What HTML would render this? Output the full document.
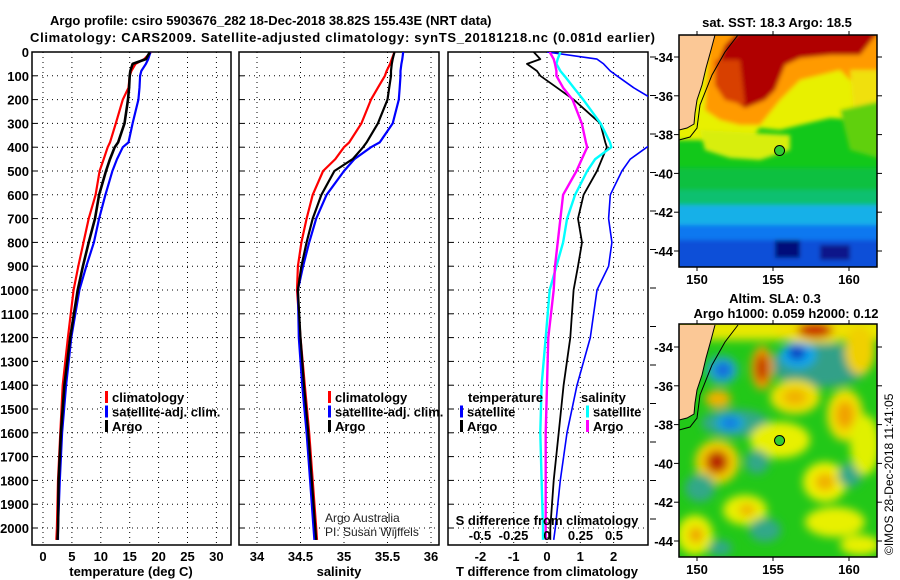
<!DOCTYPE html>
<html><head><meta charset="utf-8"><style>
html,body{margin:0;padding:0;background:#fff;}
svg{display:block;font-family:"Liberation Sans",Arial,sans-serif;}
.b{font-weight:bold;font-size:13px;}
</style></head><body>
<svg id="fig" width="900" height="580" viewBox="0 0 900 580" xmlns="http://www.w3.org/2000/svg">
<defs>
<filter id="bl" x="-20%" y="-20%" width="140%" height="140%"><feGaussianBlur stdDeviation="2"/></filter>
<filter id="bl2" x="-30%" y="-30%" width="160%" height="160%"><feGaussianBlur stdDeviation="4.5"/></filter>
<clipPath id="c1"><rect x="32" y="52" width="199" height="493"/></clipPath>
<clipPath id="c2"><rect x="239" y="52" width="200" height="493"/></clipPath>
<clipPath id="c3"><rect x="448" y="52" width="200" height="493"/></clipPath>
<clipPath id="m1"><rect x="679" y="35" width="198" height="232"/></clipPath>
<clipPath id="m2"><rect x="679" y="324" width="198" height="233"/></clipPath>
</defs>
<text class="b" x="50" y="25">Argo profile: csiro 5903676_282 18-Dec-2018 38.82S 155.43E (NRT data)</text>
<text class="b" x="30" y="42" textLength="625">Climatology: CARS2009. Satellite-adjusted climatology: synTS_20181218.nc (0.081d earlier)</text>
<g id="charts"></g>
<g id="maps"></g>
</svg>
<script>
// ---- data ----
const depths = [0,30,50,80,100,150,200,300,380,400,450,500,600,700,800,900,1000,1200,1400,1600,1800,2000,2050];
const tempArgo = [18.5,17.8,15.5,15.1,15.0,14.9,14.7,14.1,13.0,12.4,11.6,10.9,9.7,9.0,7.9,6.9,6.0,4.7,3.7,3.1,2.7,2.6,2.5];
const tempClim = [18.7,17.5,16.0,15.3,15.0,14.8,13.8,12.6,11.6,11.2,10.5,9.8,9.1,7.9,7.0,6.1,5.3,4.3,3.4,3.0,2.6,2.4,2.3];
const tempSat  = [18.6,18.2,17.8,17.0,16.8,16.7,16.5,15.5,14.8,13.8,12.8,12.0,10.8,9.7,8.8,7.5,6.3,4.9,4.0,3.3,2.9,2.6,2.6];
const salArgo = [35.58,35.56,35.55,35.54,35.54,35.52,35.5,35.39,35.26,35.22,35.1,34.89,34.74,34.64,34.57,34.51,34.47,34.5,34.54,34.59,34.63,34.67,34.68];
const salClim = [35.58,35.55,35.53,35.49,35.47,35.39,35.31,35.2,35.06,35.0,34.9,34.76,34.64,34.57,34.51,34.47,34.46,34.5,34.55,34.6,34.64,34.68,34.69];
const salSat  = [35.68,35.67,35.66,35.65,35.65,35.64,35.63,35.56,35.41,35.31,35.12,35.0,34.8,34.68,34.6,34.53,34.47,34.48,34.52,34.57,34.61,34.65,34.66];
const tDiffArgo = [-0.4,-0.2,-0.6,-0.3,-0.2,0.3,0.8,1.6,1.75,1.8,1.65,1.5,1.1,0.93,1.05,0.93,0.8,0.7,0.5,0.35,0.2,0.1,0.1];
const tDiffSat  = [0,1.5,1.7,1.9,2.1,2.6,3.2,3.4,3.3,3.0,2.5,2.25,1.9,1.85,1.95,1.85,1.5,1.3,0.9,0.6,0.4,0.25,0.2];
const sDiffArgo = [0.02,0.05,0.06,0.07,0.07,0.12,0.19,0.26,0.29,0.3,0.26,0.22,0.12,0.1,0.08,0.06,0.05,0.01,0,-0.01,-0.01,-0.01,-0.01];
const sDiffSat  = [0.1,0.08,0.07,0.1,0.13,0.2,0.27,0.4,0.47,0.48,0.36,0.3,0.21,0.15,0.12,0.07,0.02,-0.01,-0.04,-0.05,-0.04,-0.03,-0.03];
const depthTicks = [0,100,200,300,400,500,600,700,800,900,1000,1100,1200,1300,1400,1500,1600,1700,1800,1900,2000];
const tempTicks = [0,5,10,15,20,25,30];
const salTicks = [34,34.5,35,35.5,36];
const tdTicks = [-2,-1,0,1,2];
const sdTicks = [-0.5,-0.25,0,0.25,0.5];
const sdTickLabels = ["-0.5","-0.25","0","0.25","0.5"];

const NS='http://www.w3.org/2000/svg';
const charts=document.getElementById('charts');
function mk(tag,attrs,parent){const e=document.createElementNS(NS,tag);for(const k in attrs)e.setAttribute(k,attrs[k]);(parent||charts).appendChild(e);return e;}
const yD = d => 52 + d*0.238;
const xT = v => 43 + v*5.78;
const xS = v => 257 + (v-34)*87;
const xTD = v => 547 + v*33.3;
const xSD = v => 547 + v*134;
const TOP=52, BOT=545;

function panel(x0,x1,xticks,xf,name){
  const g=mk('g',{});
  
  
  depthTicks.forEach(d=>{
    const l=mk('line',{x1:x0,x2:x1,y1:yD(d),y2:yD(d),stroke:'#000','stroke-width':1,'stroke-dasharray':'1 4'},g);
    
    
    mk('line',{x1:x0,x2:x0+5,y1:yD(d),y2:yD(d),stroke:'#000'},g);
  });
  xticks.forEach(v=>{
    const l=mk('line',{x1:xf(v),x2:xf(v),y1:TOP,y2:BOT,stroke:'#000','stroke-width':1,'stroke-dasharray':'1 4'},g);
    
    
  });
  const r=mk('rect',{x:x0,y:TOP,width:x1-x0,height:BOT-TOP,fill:'none',stroke:'#000','stroke-width':1.5},g);
  
  
  return g;
}
function series(vals,xf,color,clip,name,w){
  const pts=vals.map((v,i)=>xf(v).toFixed(1)+','+yD(depths[i]).toFixed(1)).join(' ');
  const p=mk('polyline',{points:pts,fill:'none',stroke:color,'stroke-width':w||2.2,'clip-path':'url(#'+clip+')','stroke-linejoin':'round'});
  
  
}
function txt(x,y,s,opts,name){
  const t=mk('text',Object.assign({x:x,y:y,'font-size':13,'font-weight':'bold'},opts||{}));
  t.textContent=s;
  
  
  return t;
}

// panel 1
panel(32,231,tempTicks,xT,'temperature-panel');
depthTicks.forEach(d=>txt(29,yD(d)+5,String(d),{'text-anchor':'end'},'y-tick-label'));
tempTicks.forEach(v=>txt(xT(v),561,String(v),{'text-anchor':'middle'},'x-tick-label'));
txt(131,576,'temperature (deg C)',{'text-anchor':'middle'},'x-axis-title');
series(tempClim,xT,'#f00','c1','temp-climatology-line');
series(tempSat,xT,'#00f','c1','temp-satellite-line');
series(tempArgo,xT,'#000','c1','temp-argo-line',2.6);

// panel 2
panel(239,439,salTicks,xS,'salinity-panel');
salTicks.forEach(v=>txt(xS(v),561,String(v),{'text-anchor':'middle'},'x-tick-label'));
txt(339,576,'salinity',{'text-anchor':'middle'},'x-axis-title');
series(salClim,xS,'#f00','c2','sal-climatology-line');
series(salSat,xS,'#00f','c2','sal-satellite-line');
series(salArgo,xS,'#000','c2','sal-argo-line',2.2);
txt(325,522,'Argo Australia',{'font-weight':'normal','font-size':12,fill:'#222'},'credit-argo-australia');
txt(325,536,'PI: Susan Wijffels',{'font-weight':'normal','font-size':12,fill:'#222'},'credit-pi');

// panel 3
panel(448,648,tdTicks,xTD,'difference-panel');
[57,95.5,134,172.5,211,249.5,288,326.5,365,403.5,442,480.5,519].forEach(y=>mk('line',{x1:650,x2:656,y1:y,y2:y,stroke:'#000'}));
tdTicks.forEach(v=>txt(xTD(v),561,String(v),{'text-anchor':'middle'},'t-diff-tick-label'));
txt(547,576,'T difference from climatology',{'text-anchor':'middle'},'x-axis-title');
series(tDiffSat,xTD,'#00f','c3','tdiff-satellite-line',1.6);
series(tDiffArgo,xTD,'#000','c3','tdiff-argo-line',1.8);
series(sDiffSat,xSD,'#0ff','c3','sdiff-satellite-line',2.4);
series(sDiffArgo,xSD,'#f0f','c3','sdiff-argo-line',2.4);
txt(547,525,'S difference from climatology',{'text-anchor':'middle'},'s-axis-title');
sdTicks.forEach((v,i)=>txt(xSD(v),540,sdTickLabels[i],{'text-anchor':'middle'},'s-diff-tick-label'));

// legends
function legend(x,y,items,name){
  items.forEach((it,i)=>{
    if(it[1]){mk('rect',{x:x,y:y+i*14.5-11,width:3,height:12,fill:it[1]});}
    const t=mk('text',{x:x+(it[1]?7:0),y:y+i*14.5,'font-size':13,'font-weight':'bold'});
    t.textContent=it[0];
    
    
  });
}
legend(105,402,[['climatology','#f00'],['satellite-adj. clim.','#00f'],['Argo','#000']],'temp-legend');
legend(328,402,[['climatology','#f00'],['satellite-adj. clim.','#00f'],['Argo','#000']],'sal-legend');
legend(468,402,[['temperature',null]],'tdiff-legend');
legend(460,416.5,[['satellite','#00f'],['Argo','#000']],'tdiff-legend');
legend(581,402,[['salinity',null]],'sdiff-legend');
legend(586,416.5,[['satellite','#0ff'],['Argo','#f0f']],'sdiff-legend');

// ---- maps ----
const maps=document.getElementById('maps');
function m(tag,attrs,parent){const e=document.createElementNS(NS,tag);for(const k in attrs)e.setAttribute(k,attrs[k]);(parent||maps).appendChild(e);return e;}
const lonX = lon => 697 + (lon-150)*15.2;
function latY(lat,off){return off + (lat-34)*19.4;}
const mapLats=[34,36,38,40,42,44];
const mapLons=[150,155,160];
const argoLon=155.43, argoLat=38.82;

function coast(g,dy){
  m('polygon',{points:`679,${35+dy} 715,${35+dy} 711,${50+dy} 706,${68+dy} 702,${85+dy} 697,${100+dy} 695,${113+dy} 694,${124+dy} 687,${128+dy} 679,${130+dy}`,fill:'#fbc896'},g);
  m('polyline',{points:`679,${140+dy} 690,${137+dy} 697,${128+dy} 700,${105+dy} 712,${75+dy} 725,${52+dy} 738,${35+dy}`,fill:'none',stroke:'#000','stroke-width':1},g);
  m('polyline',{points:`715,${35+dy} 711,${50+dy} 706,${68+dy} 702,${85+dy} 697,${100+dy} 695,${113+dy} 694,${124+dy} 687,${128+dy} 679,${130+dy}`,fill:'none',stroke:'#000','stroke-width':1},g);
}
function frame(y0,y1,off,name){
  const r=m('rect',{x:679,y:y0,width:198,height:y1-y0,fill:'none',stroke:'#000','stroke-width':1.5});
  
  
  mapLats.forEach(l=>{const y=latY(l,off);m('line',{x1:674,x2:679,y1:y,y2:y,stroke:'#000'});m('line',{x1:877,x2:882,y1:y,y2:y,stroke:'#000'});
    const t=m('text',{x:673,y:y+5,'font-size':13,'font-weight':'bold','text-anchor':'end'});t.textContent='-'+l;});
  mapLons.forEach(l=>{const x=lonX(l);m('line',{x1:x,x2:x,y1:y0-4,y2:y0,stroke:'#000'});m('line',{x1:x,x2:x,y1:y1,y2:y1+4,stroke:'#000'});
    const t=m('text',{x:x,y:y1+17,'font-size':13,'font-weight':'bold','text-anchor':'middle'});t.textContent=String(l);});
  const c=m('circle',{cx:lonX(argoLon),cy:latY(argoLat,off),r:5,fill:'#3c3',stroke:'#000','stroke-width':1});
  
  
}
// SST map
const g1=m('g',{'clip-path':'url(#m1)'});


m('rect',{x:679,y:35,width:198,height:232,fill:'#12c81a'},g1);
const gb=m('g',{filter:'url(#bl)'},g1);
m('rect',{x:670,y:168,width:215,height:30,fill:'#10c040'},gb);
m('rect',{x:670,y:190,width:215,height:90,fill:'#10c070'},gb);
m('rect',{x:670,y:205,width:215,height:80,fill:'#18b0e8'},gb);
m('rect',{x:670,y:225,width:215,height:50,fill:'#0a78f0'},gb);
m('rect',{x:670,y:240,width:215,height:30,fill:'#0a50d8'},gb);
m('rect',{x:775,y:240,width:25,height:18,fill:'#06107a'},gb);
m('rect',{x:820,y:245,width:30,height:15,fill:'#08148a'},gb);
m('polygon',{points:'670,30 885,30 885,125 860,120 830,118 800,125 780,130 760,128 740,150 720,145 700,140 670,140',fill:'#e8f000'},gb);
m('polygon',{points:'700,130 790,135 790,150 760,160 730,158 705,150',fill:'#d8ee10'},gb);
m('polygon',{points:'710,30 885,30 885,80 860,90 840,70 800,80 780,100 760,125 740,125 720,120 705,110',fill:'#ff9a00'},gb);
m('polygon',{points:'740,30 880,30 860,55 830,55 800,58 785,65 775,90 765,100 745,108 725,95 715,70 725,45',fill:'#b00000'},gb);
m('polygon',{points:'715,60 740,60 745,105 725,100 715,85',fill:'#d84000'},gb);
m('polygon',{points:'850,70 885,70 885,140 855,125',fill:'#f0e010'},gb);
m('polygon',{points:'840,110 885,100 885,160 850,150',fill:'#60d010'},gb);
coast(g1,0);
frame(35,267,57,'sst-map');
const t1=m('text',{x:777,y:27,'font-size':13,'font-weight':'bold','text-anchor':'middle'});t1.textContent='sat. SST: 18.3 Argo: 18.5';


// SLA map
const blobs=[
 [815,330,40,14,'#f0e000'],[815,330,18,8,'#c82000'],
 [820,365,50,22,'#30a088'],[798,355,18,13,'#10a8f0'],[797,353,9,7,'#1030c0'],
 [722,370,16,14,'#20a8c8'],[723,370,8,7,'#1060e0'],
 [762,368,11,22,'#f0a000'],[762,368,6,14,'#c02800'],
 [718,399,13,9,'#f0b000'],[795,397,25,17,'#f0e000'],[795,397,12,8,'#f0b000'],
 [845,415,18,26,'#f0e000'],[845,415,9,14,'#f0a000'],[860,350,15,25,'#f0d000'],
 [735,423,34,14,'#30a888'],[730,423,14,8,'#10a0e8'],[730,423,7,5,'#1070e0'],
 [780,440,30,18,'#e8f000'],
 [717,462,22,22,'#f0d000'],[717,462,12,12,'#d05000'],[717,462,7,8,'#b01800'],
 [825,482,22,20,'#f0f000'],[825,482,10,9,'#f0b000'],
 [700,488,15,14,'#30a888'],[757,462,12,12,'#30a888'],[850,475,12,12,'#30a888'],
 [745,510,22,15,'#e8f000'],[747,510,8,6,'#f0b000'],[695,535,18,20,'#e8f000'],[696,535,7,8,'#f0a000'],
 [835,522,30,15,'#e8f000'],[865,445,15,30,'#e0f000'],[765,530,16,12,'#30a888'],[720,548,12,8,'#30a888'],[860,545,20,10,'#e8f000']
];
const g2=m('g',{'clip-path':'url(#m2)'});


m('rect',{x:679,y:324,width:198,height:233,fill:'#22c818'},g2);
const gb2=m('g',{filter:'url(#bl2)'},g2);
m('rect',{x:670,y:318,width:215,height:22,fill:'#e8e800'},gb2);
blobs.forEach(b=>m('ellipse',{cx:b[0],cy:b[1],rx:b[2],ry:b[3],fill:b[4]},gb2));
coast(g2,290);
frame(324,557,347,'sla-map');
const t2=m('text',{x:775,y:303,'font-size':13,'font-weight':'bold','text-anchor':'middle'});t2.textContent='Altim. SLA: 0.3';

const t3=m('text',{x:786,y:318,'font-size':13,'font-weight':'bold','text-anchor':'middle'});t3.textContent='Argo h1000: 0.059 h2000: 0.12';

const t4=m('text',{x:0,y:0,'font-size':12,transform:'translate(893,555) rotate(-90)'});t4.textContent='©IMOS 28-Dec-2018 11:41:05';

</script>
</body></html>
